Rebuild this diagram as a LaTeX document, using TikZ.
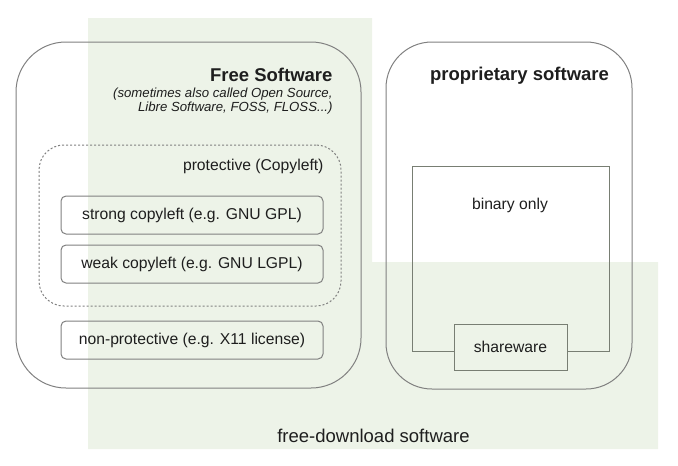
\documentclass[tikz,border=0pt]{standalone}
\usepackage{fontspec}
\setmainfont{Liberation Sans}
\definecolor{dlgreen}{HTML}{EDF3E8}
\definecolor{edge}{HTML}{808080}
\definecolor{greyedge}{HTML}{787E73}
\definecolor{ink}{HTML}{1E1E1E}
\tikzset{
  lbl/.style={font=\fontsize{15.7}{18}\selectfont,text=ink},
  big/.style={font=\fontsize{18.5}{22}\selectfont,text=ink},
  head/.style={font=\fontsize{18.5}{22}\selectfont\bfseries,text=ink},
  note/.style={font=\fontsize{13.2}{14.4}\selectfont\itshape,text=ink},
  licbox/.style={draw=edge,rounded corners=5pt,minimum width=262pt,minimum height=38pt,lbl}
}
\begin{document}
\begin{tikzpicture}[x=1pt,y=-1pt,line width=1pt]
	\useasboundingbox (0,0) rectangle (678,466);
	% free-download
	\fill[dlgreen] (88,18) -| (372,262) -| (658,449) -| (88,18) -- cycle;
	\node[big,anchor=base,inner sep=0pt] (dl) at (373.5,442) {free-download software};
	% free software
	\node[draw=edge,rounded corners=50pt,minimum width=345pt,minimum height=346pt] (free) at (188.5,215) {};
	\node[head,anchor=base east,inner sep=0pt] (freet) at (333,81) {Free Software};
	\node[note,anchor=north east,align=right,inner sep=0pt] (freen) at (333,87) {(sometimes also called Open Source,\\Libre Software, FOSS, FLOSS...)};
	\node[draw=edge,dash pattern=on 2pt off 2pt,rounded corners=25pt,minimum width=302pt,minimum height=161pt] (prot) at (190,225.5) {};
	\node[lbl,anchor=base east,inner sep=0pt] (prott) at (324,170) {protective (Copyleft)};
	\foreach \y/\t [count=\i] in {215/strong copyleft (e.g. GNU GPL),264/weak copyleft (e.g. GNU LGPL),340/non-protective (e.g. X11 license)}
	\node[licbox] (lic\i) at (192,\y) {\t};
	% proprietary
	\node[draw=edge,rounded corners=46pt,minimum width=246pt,minimum height=347pt] (prop) at (509,215.5) {};
	\node[head,anchor=base,inner sep=0pt] (propt) at (519.5,80) {proprietary software};
	\node[draw=greyedge,minimum width=113pt,minimum height=46pt,lbl] (share) at (510.5,347) {shareware};
	\coordinate (binnw) at (412,166);
	\coordinate (binne) at (609,166);
	\draw[greyedge] ([yshift=-4pt]share.west) -| (binnw) -- (binne) |- ([yshift=-4pt]share.east);
	\node[lbl] (bin) at (510,205) {binary only};
\end{tikzpicture}
\end{document}
